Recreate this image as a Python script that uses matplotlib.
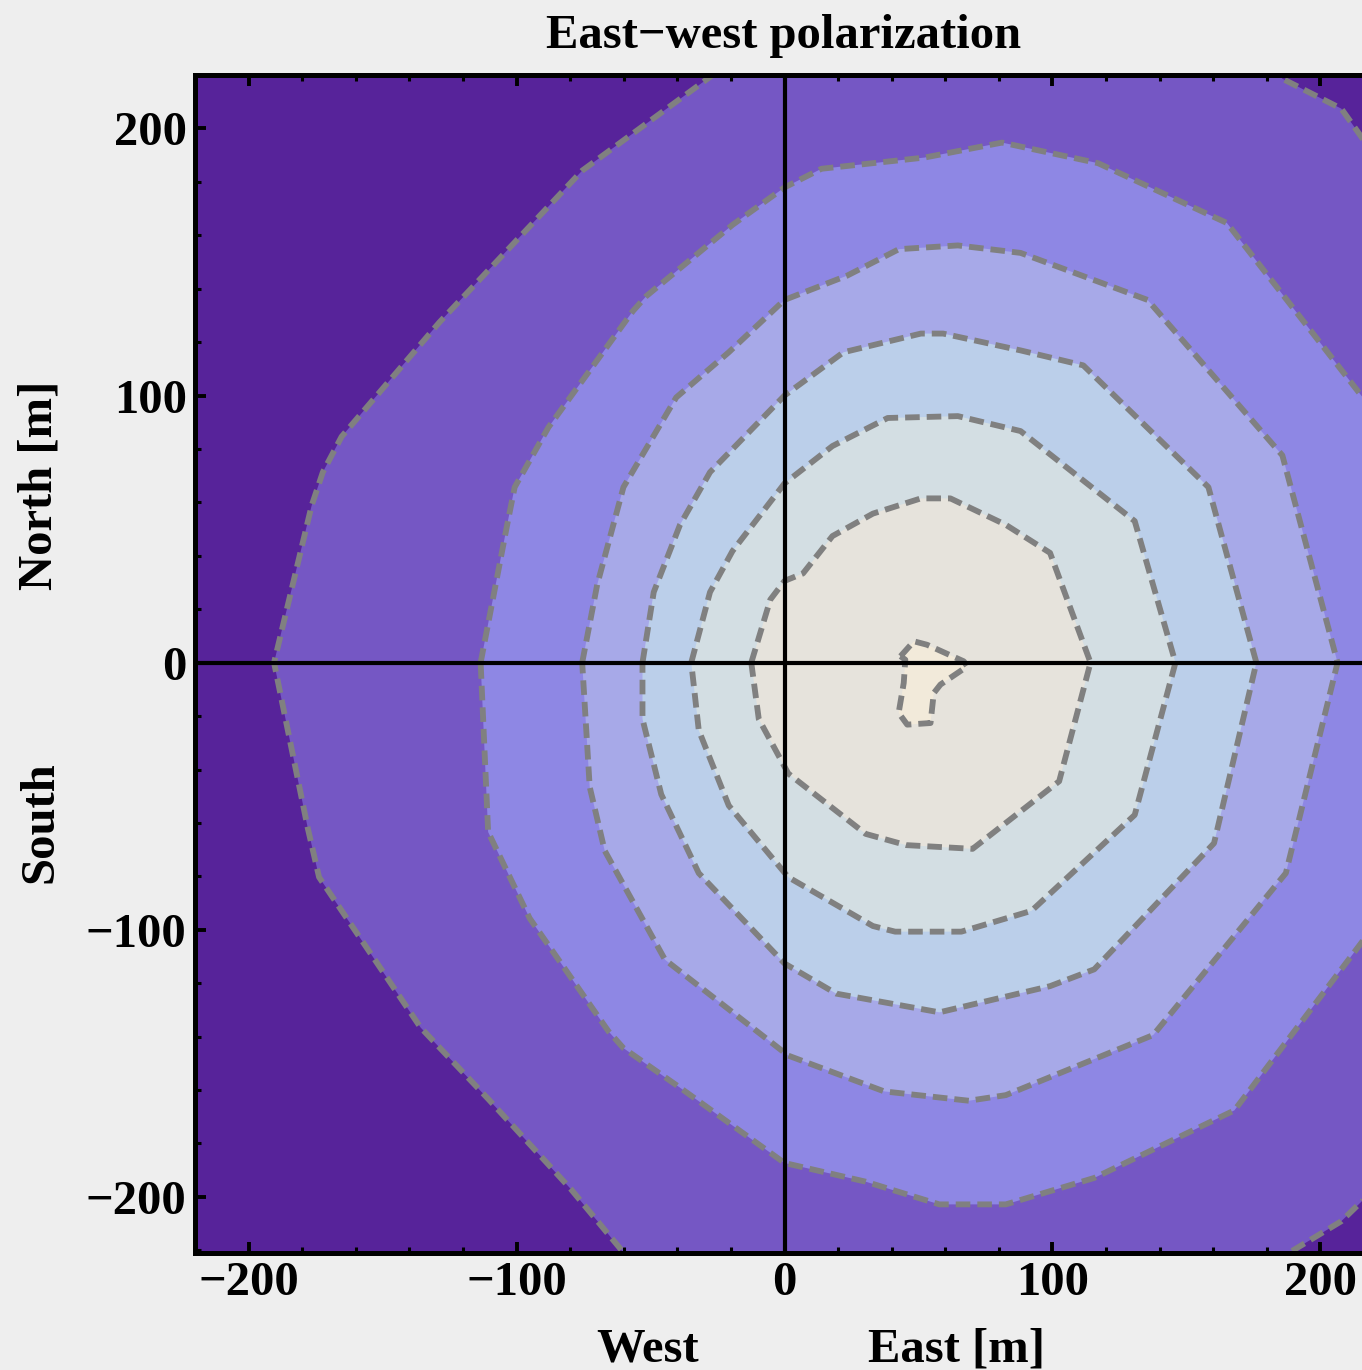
import matplotlib
matplotlib.use("Agg")
import matplotlib.pyplot as plt
from matplotlib.ticker import MultipleLocator

# ---------------- data (contour lines, metres) ----------------
# contour level 1 (outermost) ... level 7 (innermost); closed polygons
c1_x = [0, -20, -75.5, -128.8, -165.3, -172.3, -176.5, -190.5, -177.9, -173.7, -135.8, -110.6,
        -79.7, -60.1, -45, 170, 188.5, 207.8, 215.8, 250, 270, 250, 215.8, 207.8, 185.8, 170]
c1_y = [240, 225, 184.2, 127.4, 84.6, 71.3, 58.7, 0, -62.0, -80.3, -136.6, -163.3,
        -197.1, -220.8, -240, -240, -220.8, -209.1, -201.3, -150, 0, 150, 196.1, 207.4, 218.6, 240]

c2_x = [-113.4, -103.5, -100.7, -88.1, -56.6, -51.6, -19.4, 0, 13.8, 52.3, 81.2, 117.0, 165.1,
        215.8, 240, 250, 240, 215.8, 167.9, 115.6, 82.6, 57.8, 30.3, 0, -39.0, -60.1, -65.7,
        -95.1, -110.6]
c2_y = [0, 51.6, 65.7, 88.1, 131.6, 137.2, 163.9, 177.9, 184.9, 189.1, 194.7, 187.0, 164.6,
        99.3, 60, 0, -60, -104.2, -167.6, -192.9, -202.8, -202.8, -194.3, -187.3, -159.1, -144.3,
        -138.0, -95.7, -63.4]

c3_x = [-75.5, -69.9, -60.1, -40.4, -20.8, 0, 23.4, 42.7, 64.7, 88.1, 135.5, 185.8, 206.4,
        187.1, 137.6, 82.6, 68.8, 37.2, 1.4, -44.6, -67.1, -72.7]
c3_y = [0, 29.2, 65.7, 99.3, 116.2, 135.8, 144.9, 154.8, 156.2, 153.4, 135.8, 77.6, 0,
        -78.8, -139.4, -161.9, -164.0, -160.5, -147.1, -111.2, -70.4, -46.5]

c4_x = [-53.0, -48.8, -39.0, -27.8, 0, 22.0, 50.9, 59.2, 88.1, 111.5, 158.2, 176.1, 160.3,
        115.6, 99.1, 57.8, 19.3, 0, -32.0, -46.0, -53.0]
c4_y = [0, 26.4, 51.6, 71.3, 100.0, 116.2, 123.2, 123.2, 116.9, 111.3, 65.7, 0, -67.6,
        -114.8, -121.1, -130.9, -123.9, -112.6, -78.8, -49.3, -21.1]

c5_x = [-34.8, -27.8, -19.4, 0, 17.9, 38.5, 64.7, 88.1, 130.7, 145.9, 130.7, 92.2, 66.0,
        41.3, 33.0, 1.4, -20.8, -32.0]
c5_y = [0, 26.4, 41.8, 67.1, 81.1, 91.6, 92.3, 86.7, 53.0, 0, -57.0, -92.9, -100.7,
        -100.7, -98.6, -80.3, -53.5, -25.3]

c6_x = [-12.4, -5.3, 0, 6.9, 17.9, 33.0, 50.9, 61.9, 82.6, 99.1, 114.2, 102.5, 70.2, 45.4,
        30.3, 1.4, -9.6]
c6_y = [0, 23.6, 30.6, 33.4, 47.4, 55.8, 61.5, 61.5, 51.6, 41.1, 0, -44.4, -69.7, -68.3,
        -64.1, -41.5, -21.1]

c7_x = [43.3, 48.3, 53.2, 66.9, 68.2, 58.2, 55.7, 54.5, 45.8, 42.6, 44.5, 45.1]
c7_y = [2.4, 8.0, 6.7, 0.5, -1.4, -8.2, -11.4, -22.6, -23.2, -18.8, -7.6, 1.1]

contours_x = [c1_x, c2_x, c3_x, c4_x, c5_x, c6_x, c7_x]
contours_y = [c1_y, c2_y, c3_y, c4_y, c5_y, c6_y, c7_y]

outside_color = "#57239A"
band_colors = ["#7557C4", "#8E87E4", "#A7A9E8", "#BBCFEA", "#D3DEE3", "#E6E3DC", "#F2EADA"]

x_ticks = [-200, -100, 0, 100, 200]
y_ticks = [-200, -100, 0, 100, 200]

# ---------------- figure ----------------
W, H = 1362, 1370
FS = 35
fig = plt.figure(figsize=(W / 100, H / 100), dpi=100, facecolor="#EEEEEE")
ax = fig.add_axes([195 / W, 1 - 1253 / H, (1374 - 195) / W, (1253 - 75) / H])
ax.set_facecolor(outside_color)
ax.set_xlim(-220, 220)
ax.set_ylim(-221, 220)

for xs, ys, col in zip(contours_x, contours_y, band_colors):
    ax.fill(xs, ys, color=col, lw=0, zorder=1)
for xs, ys in zip(contours_x, contours_y):
    ax.plot(list(xs) + [xs[0]], list(ys) + [ys[0]], color="#808080", lw=4.2,
            ls=(0, (2.5, 1.2)), zorder=2, dash_capstyle="butt", solid_joinstyle="round")

ax.axhline(0, color="black", lw=3, zorder=3)
ax.axvline(0, color="black", lw=3, zorder=3)

for s in ax.spines.values():
    s.set_linewidth(3.6)
    s.set_color("black")
    s.set_zorder(5)

ax.xaxis.set_major_locator(MultipleLocator(100))
ax.xaxis.set_minor_locator(MultipleLocator(20))
ax.yaxis.set_major_locator(MultipleLocator(100))
ax.yaxis.set_minor_locator(MultipleLocator(20))
ax.tick_params(which="both", direction="in", top=True, right=True, color="black")
ax.tick_params(which="major", length=8, width=2.8, pad=6)
ax.tick_params(which="minor", length=4.5, width=2.2)
ax.set_xticks(x_ticks)
ax.set_yticks(y_ticks)

font = dict(family="Liberation Serif", weight="bold")
ax.set_xticklabels([f"{v}".replace("-", "\u2212") for v in x_ticks], **font, fontsize=FS)
ax.set_yticklabels([f"{v}".replace("-", "\u2212") for v in y_ticks], **font, fontsize=FS)

fig.text(784 / W, 1 - 36 / H, "East\u2212west polarization", ha="center", va="center",
         fontsize=FS, **font)
fig.text(648 / W, 1 - 1350 / H, "West", ha="center", va="center", fontsize=FS, **font)
fig.text(957 / W, 1 - 1350 / H, "East [m]", ha="center", va="center", fontsize=FS, **font)
fig.text(40 / W, 1 - 485 / H, "North [m]", ha="center", va="center", rotation=90,
         fontsize=FS, **font)
fig.text(40 / W, 1 - 822 / H, "South", ha="center", va="center", rotation=90,
         fontsize=FS, **font)

fig.savefig("out.png", dpi=100, facecolor=fig.get_facecolor())
